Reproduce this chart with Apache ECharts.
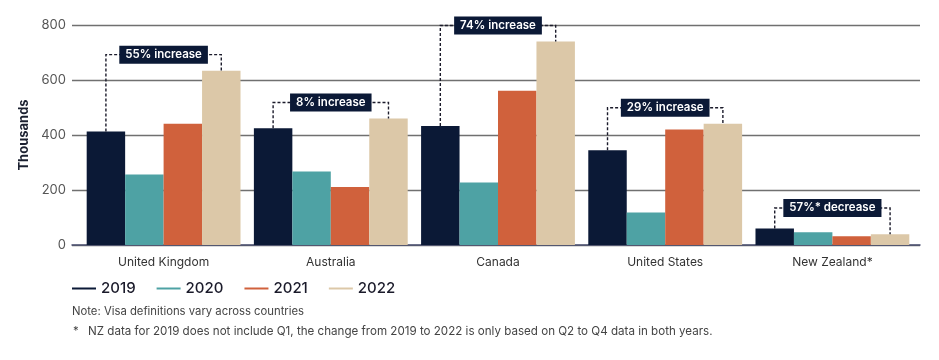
<!DOCTYPE html>
<html>
<head>
<meta charset="utf-8">
<script src="https://cdn.jsdelivr.net/npm/echarts@6/dist/echarts.min.js"></script>
<style>
html,body{margin:0;padding:0;background:#fff;}
#chart{width:939px;height:360px;}
</style>
</head>
<body>
<div id="chart"></div>
<script>
const categories = ['United Kingdom', 'Australia', 'Canada', 'United States', 'New Zealand*'];
const years = ['2019', '2020', '2021', '2022'];
const v2019 = [413, 425, 433, 345, 60];
const v2020 = [256, 267, 227, 118, 46];
const v2021 = [441, 211, 561, 420, 32];
const v2022 = [634, 460, 740, 441, 39];
const changeLabels = ['55% increase', '8% increase', '74% increase', '29% increase', '57%* decrease'];
const yTicks = [0, 200, 400, 600, 800];

const colors = ['#0b1936', '#4ea2a4', '#d0613c', '#dcc8a8'];
const FONT = 'Inter, "Noto Sans", sans-serif';
const GAP = 0.08;

const chart = echarts.init(document.getElementById('chart'), null, {renderer: 'canvas'});

const seriesData = [v2019, v2020, v2021, v2022];
const barSeries = years.map((y, i) => ({
  name: y,
  type: 'bar',
  xAxisIndex: 1,
  yAxisIndex: 1,
  data: seriesData[i],
  barGap: '0%',
  barCategoryGap: (GAP * 100) + '%',
  itemStyle: {color: colors[i]},
  z: 3
}));

const bracketData = categories.map((c, i) => [i, v2019[i], v2022[i], Math.max(v2019[i], v2022[i])]);

const bracketSeries = {
  type: 'custom',
  xAxisIndex: 1,
  yAxisIndex: 1,
  data: bracketData,
  z: 5,
  silent: true,
  renderItem: function (params, api) {
    const idx = api.value(0);
    const center = api.coord([idx, 0]);
    const band = api.size([1, 0])[0];
    const groupW = band * (1 - GAP);
    const barW = groupW / 4;
    const xa = center[0] - groupW / 2 + barW / 2;
    const xb = center[0] + groupW / 2 - barW / 2;
    const ya = api.coord([idx, api.value(1)])[1];
    const yb = api.coord([idx, api.value(2)])[1];
    const top = api.coord([idx, api.value(3)])[1];
    const yl = Math.min(top - 16, center[1] - 37);
    return {
      type: 'group',
      children: [
        {
          type: 'polyline',
          shape: {points: [[xa, ya], [xa, yl], [xb, yl], [xb, yb]]},
          style: {stroke: '#1b1b2b', lineWidth: 1.4, lineDash: [3, 2], fill: null}
        },
        {
          type: 'text',
          x: center[0],
          y: yl,
          style: {
            text: changeLabels[params.dataIndex],
            fill: '#ffffff',
            font: '600 11.5px ' + FONT,
            align: 'center',
            verticalAlign: 'middle',
            backgroundColor: '#0b1936',
            padding: [3, 6, 3, 6]
          }
        }
      ]
    };
  }
};

const option = {
  animation: false,
  textStyle: {fontFamily: FONT},
  grid: [
    {left: 72, right: 19, top: 25, bottom: 115},
    {left: 80, right: 23, top: 25, bottom: 115}
  ],
  legend: {
    data: years,
    left: 67,
    top: 276,
    icon: 'rect',
    itemWidth: 24,
    itemHeight: 2,
    itemGap: 21,
    textStyle: {fontSize: 15, fontWeight: 500, color: '#1a1a2a', fontFamily: FONT}
  },
  xAxis: [
    {
      gridIndex: 0, type: 'value', min: 0, max: 1,
      axisLine: {show: true, onZero: false, lineStyle: {color: '#4a4f70', width: 1.5}},
      axisTick: {show: false}, axisLabel: {show: false}, splitLine: {show: false}
    },
    {
      gridIndex: 1, type: 'category', data: categories,
      axisLine: {show: false}, axisTick: {show: false},
      axisLabel: {color: '#333', fontSize: 12, margin: 11, fontFamily: FONT}
    }
  ],
  yAxis: [
    {
      gridIndex: 0, type: 'value', min: yTicks[0], max: yTicks[yTicks.length - 1], interval: 200,
      name: 'Thousands', nameLocation: 'middle', nameGap: 41, nameRotate: 90,
      nameTextStyle: {fontSize: 13, fontWeight: 'bold', color: '#1b2030', fontFamily: FONT},
      axisLine: {show: false}, axisTick: {show: false},
      axisLabel: {color: '#555', fontSize: 13, margin: 6, fontFamily: FONT},
      splitLine: {show: true, lineStyle: {color: '#707070', width: 1.3}}
    },
    {
      gridIndex: 1, type: 'value', min: yTicks[0], max: yTicks[yTicks.length - 1], interval: 200,
      axisLine: {show: false}, axisTick: {show: false}, axisLabel: {show: false}, splitLine: {show: false}
    }
  ],
  series: [...barSeries, bracketSeries],
  graphic: [
    {
      type: 'text', left: 72, top: 306,
      style: {text: 'Note: Visa definitions vary across countries', fill: '#444', font: '11.3px ' + FONT}
    },
    {
      type: 'text', left: 73, top: 326,
      style: {text: '*', fill: '#444', font: '11.3px ' + FONT}
    },
    {
      type: 'text', left: 88, top: 326,
      style: {text: 'NZ data for 2019 does not include Q1, the change from 2019 to 2022 is only based on Q2 to Q4 data in both years.', fill: '#444', font: '11.6px ' + FONT}
    }
  ]
};

chart.setOption(option);
</script>
</body>
</html>
